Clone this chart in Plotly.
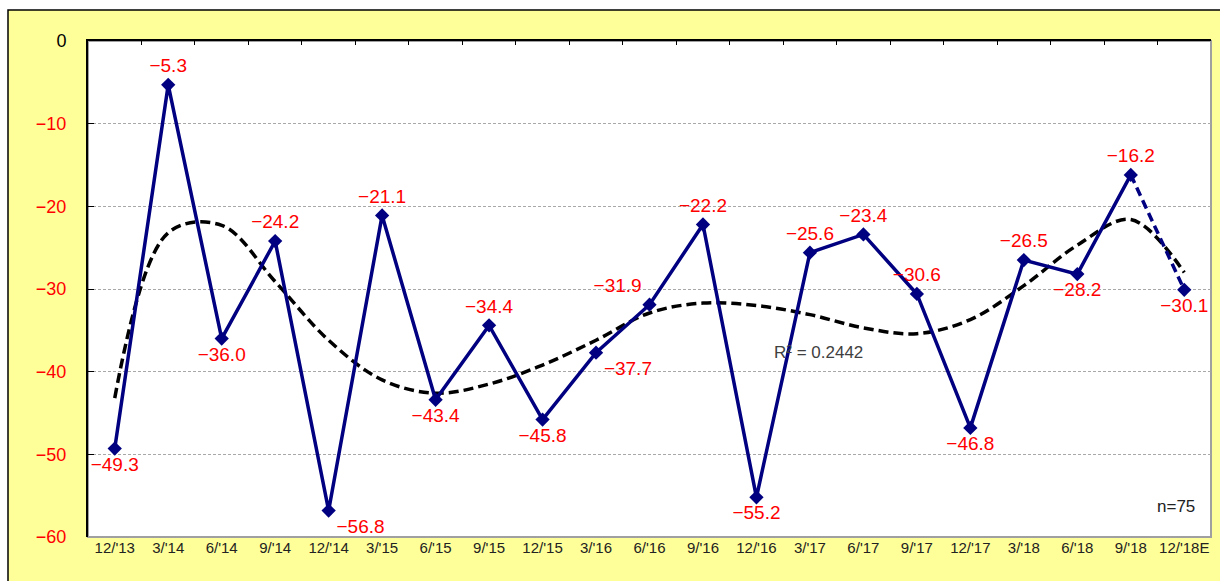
import plotly.graph_objects as go

categories = ["12/'13", "3/'14", "6/'14", "9/'14", "12/'14", "3/'15", "6/'15", "9/'15",
              "12/'15", "3/'16", "6/'16", "9/'16", "12/'16", "3/'17", "6/'17", "9/'17",
              "12/'17", "3/'18", "6/'18", "9/'18", "12/'18E"]
values = [-49.3, -5.3, -36.0, -24.2, -56.8, -21.1, -43.4, -34.4, -45.8, -37.7, -31.9,
          -22.2, -55.2, -25.6, -23.4, -30.6, -46.8, -26.5, -28.2, -16.2, -30.1]
# trend curve at each category
trend = [-43.2, -23.2, -22.3, -29.1, -36.2, -41.0, -42.6, -41.5, -39.2, -36.2, -32.9,
         -31.7, -32.0, -33.1, -34.7, -35.4, -33.7, -29.6, -24.7, -21.6, -28.0]
label_pos = ["bottom center", "top center", "bottom center", "top center", "bottom right",
             "top center", "bottom center", "top center", "bottom center", "bottom right",
             "top left", "top center", "bottom center", "top center", "top center",
             "top center", "bottom center", "top center", "bottom center", "top center",
             "bottom center"]
y_ticks = [0, -10, -20, -30, -40, -50, -60]

idx = list(range(len(categories)))
NAVY = "#000080"
FONT = "Liberation Sans"

fig = go.Figure()

fig.add_trace(go.Scatter(x=idx, y=trend, mode="lines", line=dict(color="black", width=3.5, dash="10px,5px", shape="spline", smoothing=1.0), hoverinfo="skip", showlegend=False))
fig.add_trace(go.Scatter(x=idx[:-1], y=values[:-1], mode="lines", line=dict(color=NAVY, width=3.5), showlegend=False))
fig.add_trace(go.Scatter(x=idx[-2:], y=values[-2:], mode="lines", line=dict(color=NAVY, width=3.5, dash="9px,5px"), showlegend=False))
fig.add_trace(go.Scatter(x=idx, y=values, mode="markers+text",
                         marker=dict(symbol="diamond", size=11, color=NAVY),
                         text=[f"{v:.1f}".replace("-", "\u2212") for v in values],
                         textposition=label_pos,
                         textfont=dict(color="#FF0000", size=19, family=FONT),
                         showlegend=False))
# invisible trace for the top axis
fig.add_trace(go.Scatter(x=[idx[0]], y=[values[0]], xaxis="x2", mode="markers", marker=dict(opacity=0), hoverinfo="skip", showlegend=False))

W, H = 1220, 581
L, T, R, B = 88, 41, 1211, 537
pw, ph = R - L, B - T

def px(x):
    return (x - L) / pw

def py(y):
    return (B - y) / ph

shapes = [
    dict(type="rect", xref="paper", yref="paper", x0=px(8), x1=px(1240), y0=py(600), y1=py(10),
         fillcolor="#FFFF99", line=dict(color="black", width=1.5), layer="below"),
    dict(type="rect", xref="paper", yref="paper", x0=0, x1=1, y0=0, y1=1,
         fillcolor="white", line=dict(color="#A0A0A0", width=2), layer="below"),
]

ticktext = []
for v in y_ticks:
    s = str(v).replace("-", "\u2212")
    color = "black" if v == 0 else "#FF0000"
    ticktext.append(f'<span style="color:{color}">{s}</span>')

fig.update_layout(
    width=W, height=H,
    margin=dict(l=L, r=W - R, t=T, b=H - B),
    paper_bgcolor="white", plot_bgcolor="white",
    shapes=shapes,
    font=dict(family=FONT, color="black"),
    xaxis=dict(range=[-0.5, len(categories) - 0.5], tickvals=idx, ticktext=categories,
               showgrid=False, zeroline=False, showline=False, ticks="",
               tickfont=dict(size=15, color="#222222", family=FONT)),
    xaxis2=dict(overlaying="x", side="top", range=[-0.5, len(categories) - 0.5],
                tickvals=[i + 0.5 for i in idx[:-1]], ticks="inside", ticklen=4,
                tickcolor="black", showticklabels=False, showline=True, linecolor="black",
                linewidth=2, showgrid=False, zeroline=False),
    yaxis=dict(range=[-60, 0], tickvals=y_ticks, ticktext=ticktext, showgrid=True,
               gridcolor="#A8A8A8", griddash="3px,2px", gridwidth=1, zeroline=False,
               showline=True, linecolor="black", linewidth=2, ticks="inside", ticklen=6,
               tickcolor="black", ticklabelstandoff=16,
               tickfont=dict(size=18, family=FONT)),
    annotations=[
        dict(text="R\u00b2 = 0.2442", x=px(865), y=py(352), xref="paper", yref="paper", showarrow=False,
             font=dict(size=17, color="#404040", family=FONT)),
        dict(text="n=75", x=px(1197), y=py(518), xref="paper", yref="paper", xanchor="right",
             showarrow=False, font=dict(size=17, color="#222222", family=FONT)),
    ],
)

fig.write_html("out.html", config={"displayModeBar": False},
               post_script="document.body.style.margin='0';document.body.style.overflow='hidden';")
